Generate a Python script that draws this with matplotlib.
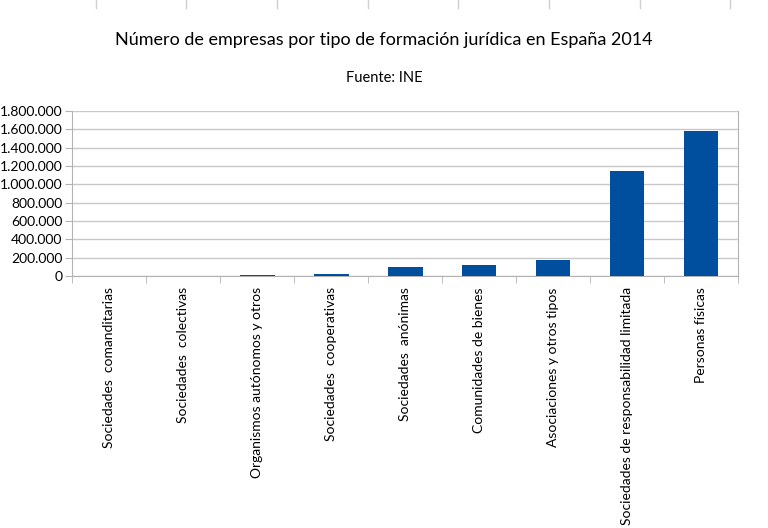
import numpy as np
import matplotlib.pyplot as plt
from matplotlib.ticker import FuncFormatter

categories = [
    'Sociedades  comanditarias',
    'Sociedades  colectivas',
    'Organismos autónomos y otros',
    'Sociedades  cooperativas',
    'Sociedades  anónimas',
    'Comunidades de bienes',
    'Asociaciones y otros tipos',
    'Sociedades de responsabilidad limitada',
    'Personas físicas',
]
empresas = [60, 250, 11000, 20000, 95000, 118000, 178000, 1140000, 1580000]
y_ticks = [0, 200000, 400000, 600000, 800000, 1000000, 1200000, 1400000, 1600000, 1800000]

plt.rcParams['font.family'] = ['Lato', 'DejaVu Sans']

fig = plt.figure(figsize=(7.68, 5.28), dpi=100)
ax = fig.add_axes([0.094, 0.477, 0.867, 0.313])

x = np.arange(len(categories))
ax.bar(x, empresas, width=0.47, color='#004f9f', zorder=3)

ax.set_xlim(-0.5, len(categories) - 0.5)
ax.set_ylim(0, 1800000)
ax.set_yticks(y_ticks)
ax.yaxis.set_major_formatter(FuncFormatter(lambda v, p: f'{int(v):,}'.replace(',', '.')))
ax.grid(axis='y', color='#c8c8c8', linewidth=1, zorder=0)

ax.set_xticks(x)
ax.set_xticklabels(categories, rotation=90, va='top', ha='center')
ax.set_xticks(np.arange(-0.5, len(categories)), minor=True)
ax.tick_params(axis='x', which='major', length=0, pad=8, labelsize=10)
ax.tick_params(axis='x', which='minor', length=5, color='#b3b3b3', direction='out')
ax.tick_params(axis='y', length=5, color='#b3b3b3', labelsize=10, pad=2)

for side in ['left', 'bottom', 'right']:
    ax.spines[side].set_color('#b3b3b3')
ax.spines['top'].set_visible(False)

fig.text(0.5, 0.925, 'Número de empresas por tipo de formación jurídica en España 2014',
         ha='center', va='center', fontsize=13)
fig.text(0.5, 0.852, 'Fuente: INE', ha='center', va='center', fontsize=10.5)

# faint column separators along the top edge
for xp in [96, 186, 277, 368, 458, 549, 640, 730]:
    fig.add_artist(plt.Line2D([xp / 768, xp / 768], [1.0, 1 - 8 / 528],
                              color='#d0d0d0', linewidth=1))

fig.savefig('out.png', dpi=100)
